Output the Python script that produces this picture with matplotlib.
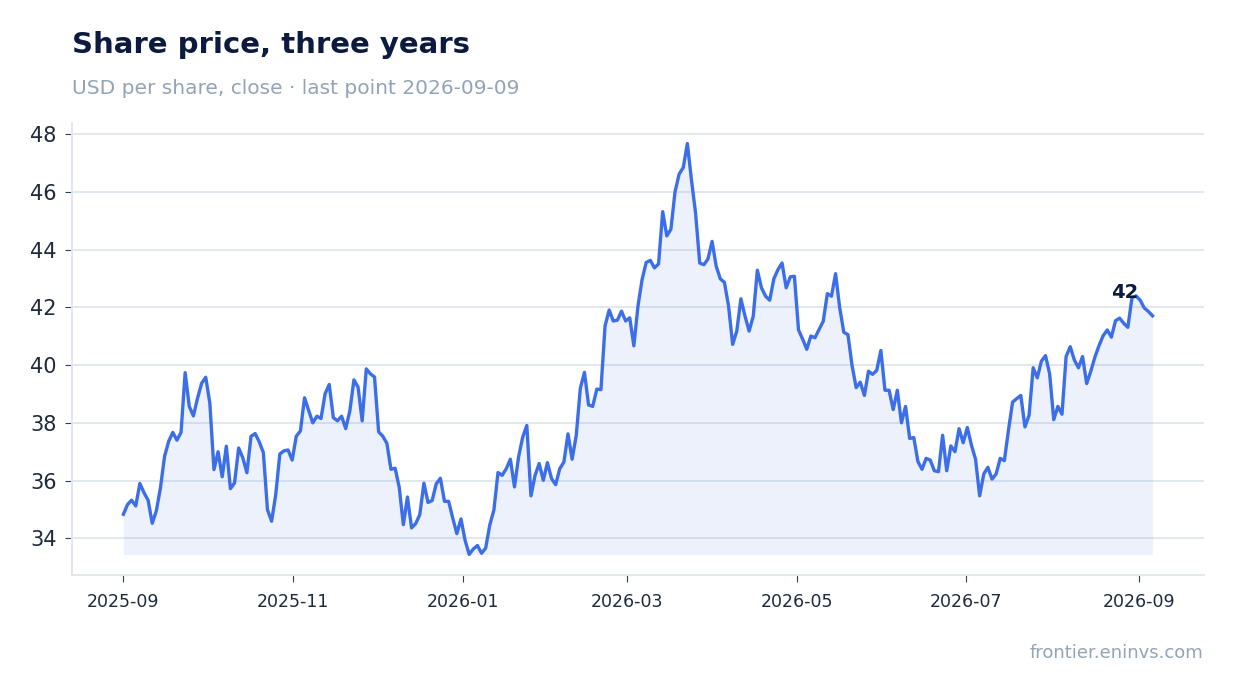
import numpy as np
import pandas as pd
import matplotlib
matplotlib.use("Agg")
import matplotlib.pyplot as plt
import matplotlib.dates as mdates

# close prices in four chunks (sep-oct, nov-dec, jan-may, may-sep)
price_a = [34.83, 35.17, 35.32, 35.12, 35.90, 35.58, 35.32, 34.52, 34.95, 35.75,
           36.84, 37.36, 37.67, 37.40, 37.67, 39.74, 38.57, 38.24, 38.85, 39.37,
           39.58, 38.68, 36.38, 37.00, 36.13, 37.19, 35.72, 35.92, 37.13, 36.79,
           36.27, 37.53]
price_b = [37.63, 37.34, 36.97, 34.99, 34.59, 35.51, 36.92, 37.03, 37.06, 36.71,
           37.54, 37.72, 38.87, 38.44, 38.00, 38.23, 38.15, 39.01, 39.33, 38.18,
           38.07, 38.23, 37.80, 38.41, 39.49, 39.24, 38.07, 39.87, 39.70, 39.59,
           37.69, 37.54, 37.29, 36.39, 36.43, 35.77, 34.47, 35.43, 34.36, 34.51,
           34.82, 35.91, 35.24, 35.31, 35.89, 36.08, 35.28, 35.28, 34.70, 34.16,
           34.67, 33.93, 33.44, 33.63, 33.75]
price_c = [33.48, 33.66, 34.46, 34.98, 36.28, 36.18, 36.41, 36.74, 35.78, 36.82,
           37.51, 37.91, 35.47, 36.18, 36.59, 36.01, 36.62, 36.07, 35.86, 36.41,
           36.64, 37.62, 36.74, 37.56, 39.20, 39.75, 38.62, 38.57, 39.17, 39.15,
           41.36, 41.91, 41.53, 41.56, 41.87, 41.53, 41.64, 40.67, 42.05, 42.97,
           43.56, 43.63, 43.37, 43.51, 45.32, 44.48, 44.71, 46.01, 46.62, 46.85,
           47.68, 46.41, 45.26, 43.54, 43.48, 43.68, 44.29, 43.43, 42.99, 42.87,
           42.05, 40.72, 41.18, 42.30, 41.70, 41.18, 41.70, 43.29, 42.68, 42.39,
           42.25, 42.99, 43.31, 43.54, 42.68, 43.06, 43.08, 41.22, 40.90, 40.55,
           41.01, 40.95, 41.24, 41.52, 42.48, 42.39, 43.17, 41.99]
price_d = [41.14, 41.06, 39.99, 39.22, 39.41, 38.95, 39.79, 39.68, 39.82, 40.51,
           39.13, 39.13, 38.46, 39.13, 38.00, 38.57, 37.46, 37.49, 36.66, 36.39,
           36.77, 36.71, 36.34, 36.31, 37.57, 36.34, 37.20, 37.00, 37.80, 37.31,
           37.84, 37.23, 36.74, 35.47, 36.23, 36.46, 36.05, 36.23, 36.77, 36.69,
           37.75, 38.72, 38.84, 38.95, 37.86, 38.26, 39.91, 39.56, 40.14, 40.33,
           39.70, 38.11, 38.57, 38.30, 40.30, 40.64, 40.18, 39.91, 40.30, 39.36,
           39.79, 40.28, 40.68, 41.02, 41.22, 40.97, 41.54, 41.63, 41.45, 41.31,
           42.34, 42.40, 42.25, 41.98, 41.86, 41.71]

price = np.array(price_a + price_b + price_c + price_d)
dates = pd.date_range("2025-09-01", "2026-09-06", periods=len(price))

title = "Share price, three years"
subtitle = "USD per share, close \u00b7 last point 2026-09-09"
source = "frontier.eninvs.com"

blue = "#3b6ee8"
navy = "#0c1a3f"
grey = "#94a3b8"
ink = "#1e293b"
rule = "#e2e8f0"

fig = plt.figure(figsize=(12.34, 6.93), dpi=100)
ax = fig.add_axes([0.0583, 0.1703, 0.9174, 0.6522])

ax.fill_between(dates, price, price.min(), color=blue, alpha=0.09, linewidth=0)
ax.plot(dates, price, color=blue, lw=2.4, solid_joinstyle="round")

# last value label, a bit left of and above the end of the line
ax.annotate(f"{price[-1]:.0f}", (dates[-1], price[-1]), xytext=(-14, 14),
            textcoords="offset pixels", ha="right", va="bottom",
            fontsize=14, fontweight="bold", color=navy)

ax.xaxis.set_major_locator(mdates.MonthLocator(bymonth=[1, 3, 5, 7, 9, 11]))
ax.xaxis.set_major_formatter(mdates.DateFormatter("%Y-%m"))
ax.set_yticks(np.arange(34, 49, 2))

ax.grid(axis="y", color=rule, lw=1.4)
ax.set_axisbelow(True)
for s in ["top", "right"]:
    ax.spines[s].set_visible(False)
for s in ["left", "bottom"]:
    ax.spines[s].set_color(rule)
    ax.spines[s].set_linewidth(1.4)
ax.tick_params(axis="x", labelsize=12.5, colors="#334155", labelcolor=ink, length=5, pad=8)
ax.tick_params(axis="y", labelsize=15, colors="#334155", labelcolor=ink, length=5, pad=6)

fig.text(0.0583, 1 - 53 / 693, title, fontsize=21, fontweight="bold", color=navy,
         ha="left", va="baseline")
fig.text(0.0583, 1 - 94 / 693, subtitle, fontsize=14.5, color=grey,
         ha="left", va="baseline")
fig.text(1203 / 1234, 1 - 658 / 693, source, fontsize=13, color=grey,
         ha="right", va="baseline")

fig.savefig("out.png", dpi=100)
